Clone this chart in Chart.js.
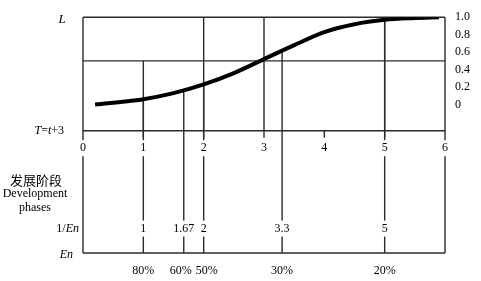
<!DOCTYPE html>
<html>
<head>
<meta charset="utf-8">
<script src="https://cdn.jsdelivr.net/npm/chart.js@4/dist/chart.umd.min.js"></script>
<style>
html, body { margin: 0; padding: 0; background: #fff; }
</style>
</head>
<body>
<canvas id="curva" width="481" height="281"></canvas>
<script>
// curve L against phase T = t + 3
const curveT = [0.2, 0.5, 1, 1.5, 2, 2.5, 3, 3.5, 4, 4.5, 5, 5.5, 5.9];
const curveL = [0.00, 0.02, 0.06, 0.13, 0.23, 0.36, 0.52, 0.68, 0.83, 0.92, 0.97, 0.99, 1.00];

// axis ticks
const phaseTicks = [0, 1, 2, 3, 4, 5, 6];
const lTicks = [0, 0.2, 0.4, 0.6, 0.8, 1.0];

// development phases: 1/En, En and where each one meets the curve
const invEn = [1, 1.67, 2, 3.3, 5];
const invEnLabels = ['1', '1.67', '2', '3.3', '5'];
const enLabels = ['80%', '60%', '50%', '30%', '20%'];
const invEnL = [0.06, 0.16, 0.23, 0.62, 0.97];

const SERIF = "'Liberation Serif', 'DejaVu Serif', serif";
const BOX_BOTTOM = -0.3;  // lower edge of the L box
const TICK_ROW = -0.5;    // row of the T labels
const TICK_END = -0.38;
const INV_ROW = -1.42;    // row of the 1/En labels
const EN_ROW = -1.7;      // En base line

function richText(ctx, parts, right, y) {
  let w = 0;
  parts.forEach(p => { ctx.font = p[1]; w += ctx.measureText(p[0]).width; });
  let x = right - w;
  ctx.textAlign = 'left';
  parts.forEach(p => {
    ctx.font = p[1];
    ctx.fillText(p[0], x, y);
    x += ctx.measureText(p[0]).width;
  });
}

function tag(ctx, text, cx, cy) {
  const w = ctx.measureText(text).width;
  ctx.fillStyle = '#fff';
  ctx.fillRect(cx - w / 2 - 2, cy - 8, w + 4, 16);
  ctx.fillStyle = '#000';
  ctx.fillText(text, cx, cy);
}

const frame = {
  id: 'frame',
  beforeDatasetsDraw(chart) {
    const ctx = chart.ctx;
    const sx = chart.scales.x, sy = chart.scales.y;
    const px = v => sx.getPixelForValue(v);
    const py = v => sy.getPixelForValue(v);
    ctx.save();
    ctx.strokeStyle = '#2a2a2a';
    ctx.lineWidth = 1.4;
    const line = (x1, y1, x2, y2) => {
      ctx.beginPath(); ctx.moveTo(x1, y1); ctx.lineTo(x2, y2); ctx.stroke();
    };
    // horizontal rules
    [1.0, 0.5, BOX_BOTTOM, EN_ROW].forEach(v => line(px(0), py(v), px(6), py(v)));
    // outer borders
    line(px(0), py(1.0), px(0), py(EN_ROW));
    line(px(6), py(1.0), px(6), py(EN_ROW));
    // phase rules inside the box
    line(px(1), py(0.5), px(1), py(TICK_END));
    [2, 3, 5].forEach(v => line(px(v), py(1.0), px(v), py(TICK_END)));
    line(px(4), py(BOX_BOTTOM), px(4), py(TICK_END));
    // 1/En drops from the curve to the En line
    invEn.forEach((v, i) => line(px(v), py(invEnL[i]), px(v), py(EN_ROW)));
    ctx.restore();
  },
  afterDraw(chart) {
    const ctx = chart.ctx;
    const sx = chart.scales.x, sy = chart.scales.y;
    const px = v => sx.getPixelForValue(v);
    const py = v => sy.getPixelForValue(v);
    const area = chart.chartArea;
    const font = '12px ' + SERIF;
    const ital = 'italic 12px ' + SERIF;
    ctx.save();
    ctx.textBaseline = 'middle';
    ctx.font = font;
    ctx.textAlign = 'center';
    // T labels
    phaseTicks.forEach(v => tag(ctx, String(v), px(v), py(TICK_ROW)));
    // 1/En labels
    invEn.forEach((v, i) => tag(ctx, invEnLabels[i], px(v), py(INV_ROW)));
    // En labels, pushed apart when they would touch
    const pos = invEn.map(px);
    const half = enLabels.map(t => ctx.measureText(t).width / 2 + 2);
    for (let i = 1; i < pos.length; i++) {
      const over = (pos[i - 1] + half[i - 1]) - (pos[i] - half[i]);
      if (over > 0) { pos[i - 1] -= over / 2; pos[i] += over / 2; }
    }
    ctx.fillStyle = '#000';
    enLabels.forEach((t, i) => ctx.fillText(t, pos[i], area.bottom + 18));

    // left side titles
    ctx.font = 'italic 13px ' + SERIF;
    ctx.fillText('L', area.left - 21, area.top + 2);
    richText(ctx, [['T', ital], ['=', font], ['t', ital], ['+3', font]], area.left - 19, py(BOX_BOTTOM));
    ctx.textAlign = 'center';
    ctx.font = "13px 'Noto Sans CJK SC', sans-serif";
    ctx.fillText('发展阶段', 36, 180);
    ctx.font = font;
    ctx.fillText('Development', 35, 194);
    ctx.fillText('phases', 35, 208);
    richText(ctx, [['1/', font], ['En', ital]], area.left - 4, py(INV_ROW));
    richText(ctx, [['En', ital]], area.left - 10, py(EN_ROW) + 2);
    ctx.restore();
  }
};

new Chart(document.getElementById('curva'), {
  type: 'line',
  data: {
    datasets: [{
      data: curveT.map((t, i) => ({ x: t, y: curveL[i] })),
      borderColor: '#000',
      borderWidth: 4,
      pointRadius: 0,
      tension: 0.4,
      cubicInterpolationMode: 'monotone',
      fill: false
    }]
  },
  options: {
    responsive: false,
    animation: false,
    devicePixelRatio: 1,
    layout: { padding: { left: 83, top: 13, right: 0, bottom: 28 } },
    plugins: { legend: { display: false }, tooltip: { enabled: false } },
    scales: {
      x: { type: 'linear', min: 0, max: 6, display: false },
      y: {
        type: 'linear',
        position: 'right',
        min: EN_ROW,
        max: 1.0,
        grid: { display: false, drawTicks: false },
        border: { display: false },
        afterBuildTicks: s => { s.ticks = lTicks.map(v => ({ value: v })); },
        afterFit: s => { s.width = 36; },
        ticks: {
          padding: 10,
          color: '#000',
          font: { family: SERIF, size: 12 },
          callback: v => (v === 0 ? '0' : v.toFixed(1))
        }
      }
    }
  },
  plugins: [frame]
});
</script>
</body>
</html>
